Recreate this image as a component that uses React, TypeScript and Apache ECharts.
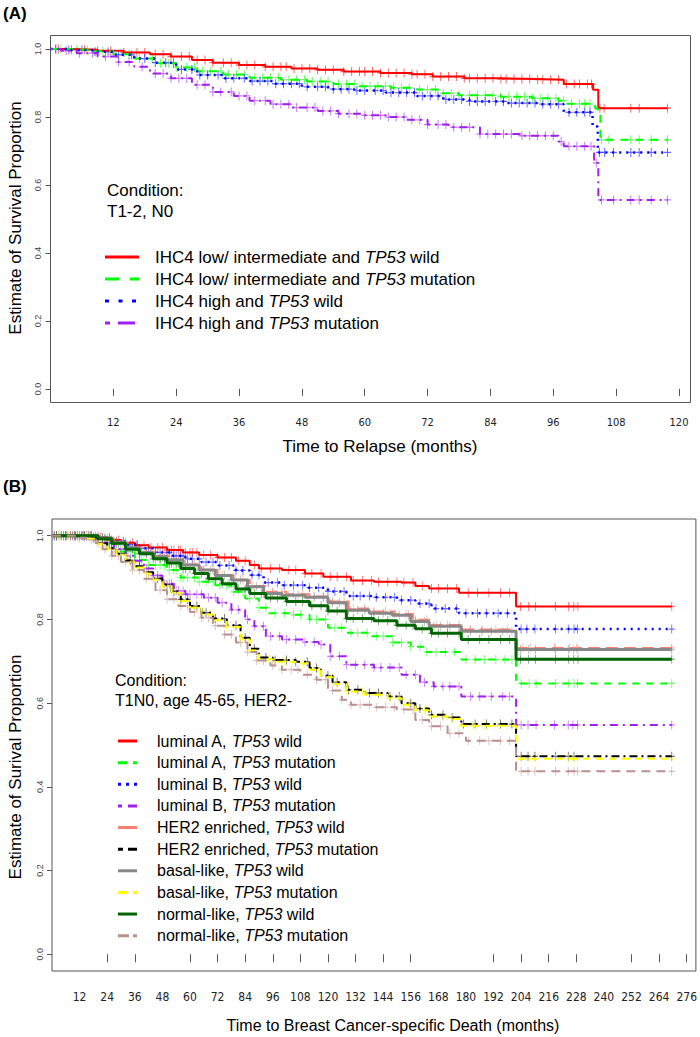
import { useEffect, useRef } from 'react';
import * as echarts from 'echarts';

type Pt = [number, number];

// ---------- ticks ----------
const Y_TICKS = [0, 0.2, 0.4, 0.6, 0.8, 1.0];
const A_X_TICKS = [12, 24, 36, 48, 60, 72, 84, 96, 108, 120];
const B_X_TICK_LABELS = [12, 24, 36, 48, 60, 72, 84, 96, 108, 120, 132, 144, 156, 168, 180, 192, 204, 216, 228, 240, 252, 264, 276];
const B_X_TICK_MARKS = [24, 36, 60, 72, 84, 96, 108, 120, 132, 144, 156, 192, 204, 216, 228, 252, 264, 276];

// ---------- text ----------
const A_TITLE = '(A)';
const B_TITLE = '(B)';
const A_X_NAME = 'Time to Relapse (months)';
const B_X_NAME = 'Time to Breast Cancer-specific Death (months)';
const A_Y_NAME = 'Estimate of Survival Proportion';
const B_Y_NAME = 'Estimate of Surival Proportion';
const A_CONDITION = ['Condition:', 'T1-2, N0'];
const B_CONDITION = ['Condition:', 'T1N0, age 45-65, HER2-'];
const A_LEGEND = [
  ['IHC4 low/ intermediate and ', 'TP53', ' wild'],
  ['IHC4 low/ intermediate and ', 'TP53', ' mutation'],
  ['IHC4 high and ', 'TP53', ' wild'],
  ['IHC4 high and ', 'TP53', ' mutation'],
];
const B_LEGEND = [
  ['luminal A, ', 'TP53', ' wild'],
  ['luminal A, ', 'TP53', ' mutation'],
  ['luminal B, ', 'TP53', ' wild'],
  ['luminal B, ', 'TP53', ' mutation'],
  ['HER2 enriched, ', 'TP53', ' wild'],
  ['HER2 enriched, ', 'TP53', ' mutation'],
  ['basal-like, ', 'TP53', ' wild'],
  ['basal-like, ', 'TP53', ' mutation'],
  ['normal-like, ', 'TP53', ' wild'],
  ['normal-like, ', 'TP53', ' mutation'],
];

// ---------- panel A: KM steps [month, survival] ----------
const A_RED: Pt[] = [[0, 1], [4, 0.998], [9, 0.995], [14, 0.99], [19, 0.985], [23, 0.978], [27, 0.968], [31, 0.96], [36, 0.953], [41, 0.948], [46, 0.943], [51, 0.939], [56, 0.934], [63, 0.93], [69, 0.926], [73, 0.919], [79, 0.914], [86, 0.912], [93, 0.91], [98, 0.897], [103.6, 0.88], [104.6, 0.826], [117.8, 0.826]];
const A_GREEN: Pt[] = [[0, 1], [4, 0.998], [8, 0.994], [12, 0.985], [16, 0.972], [20, 0.958], [24, 0.946], [28, 0.935], [33, 0.925], [38, 0.916], [44, 0.91], [49, 0.905], [54, 0.897], [59, 0.891], [65, 0.886], [70, 0.881], [74, 0.87], [78, 0.864], [86, 0.86], [92, 0.855], [97, 0.848], [98.5, 0.839], [104, 0.825], [104.5, 0.808], [105, 0.733], [117.8, 0.733]];
const A_BLUE: Pt[] = [[0, 1], [3, 0.997], [8, 0.992], [12, 0.983], [16, 0.972], [20, 0.96], [24, 0.94], [28, 0.924], [33, 0.914], [38, 0.906], [43, 0.898], [48, 0.889], [53, 0.882], [58, 0.878], [64, 0.872], [70, 0.862], [75, 0.852], [80, 0.846], [87, 0.841], [93, 0.838], [98, 0.814], [103.5, 0.772], [104.5, 0.696], [117.8, 0.696]];
const A_PURPLE: Pt[] = [[0, 1], [2, 0.995], [5, 0.988], [9, 0.978], [13, 0.962], [16, 0.948], [19, 0.928], [23, 0.914], [27, 0.895], [31, 0.874], [35, 0.862], [38, 0.848], [42, 0.838], [46, 0.828], [51, 0.818], [55, 0.81], [60, 0.805], [64, 0.8], [68, 0.792], [72, 0.778], [76, 0.77], [82, 0.75], [90, 0.745], [97, 0.728], [98, 0.714], [103.8, 0.665], [104.6, 0.556], [117.8, 0.556]];

// panel A censoring times (months)
const A_CENS_RED = [1.5, 4, 6.5, 9, 11.5, 14, 16.5, 18, 20, 21.5, 23, 25, 26.5, 28, 29.5, 31, 33, 34.5, 36, 37.5, 39, 41, 42.5, 44, 45, 46.5, 48, 49.5, 51, 52.5, 54, 56, 57.5, 59, 60, 61.5, 63, 64.5, 66, 67.5, 69, 70, 71.5, 73, 74.5, 76, 77.5, 79, 80, 81.5, 83, 84.5, 86, 87, 88.5, 90, 91.5, 93, 94, 95.5, 97, 98.5, 100, 101, 102.5, 103.3, 104.9, 105.7, 110.8, 112.4, 117.8];
const A_CENS_GREEN = [2, 5, 7, 10, 12.5, 15, 17, 19.5, 21, 22.5, 24, 26, 27.5, 29, 30.5, 32.5, 34, 35.5, 37, 39, 40.5, 42, 43.5, 45.5, 47, 48.5, 50, 51.5, 53, 55, 56.5, 58, 59.5, 61, 62.5, 64, 65.5, 67, 68.5, 70.5, 72, 73.5, 75, 76.5, 78, 80, 81.5, 83, 84.5, 86, 87.5, 89, 90.5, 92, 93.5, 95, 96.5, 98, 99.5, 101, 102, 103, 105.2, 106.6, 110.8, 112.4, 114.7, 117.8];
const A_CENS_BLUE = [1, 3.5, 6, 8.5, 11, 13, 15.5, 18, 20, 22, 23.5, 25, 27, 28.5, 30, 32, 33.5, 35, 37, 38.5, 40, 41.5, 43, 44.5, 46, 47.5, 49, 51, 52.5, 54, 55.5, 57, 58.5, 60, 62, 63.5, 65, 66.5, 68, 69.5, 71, 72.5, 74, 75.5, 77, 78.5, 80, 81.5, 83, 85, 86.5, 88, 89.5, 91, 92.5, 94, 95.5, 97, 99, 100.5, 102, 103, 104.8, 105.8, 107.5, 110.8, 112.4, 114.7, 117.8];
const A_CENS_PURPLE = [1, 3, 5.5, 8, 10.5, 13, 15, 17.5, 20, 21.5, 23, 24.5, 26, 28, 29.5, 31, 32.5, 34.5, 36, 37.5, 39, 41, 42.5, 44, 45.5, 47, 49, 50.5, 52, 53.5, 55, 57, 58.5, 60, 61.5, 63, 64.5, 66, 67.5, 69, 70.5, 72, 74, 75.5, 77, 78.5, 80, 82, 83.5, 85, 86.5, 88, 90, 91.5, 93, 94.5, 96, 97.5, 99, 100.5, 102, 103.2, 104.2, 105.2, 107.5, 110.8, 112.4, 114.7, 117.8];

// ---------- panel B: KM steps ----------
const B_RED: Pt[] = [[0, 1], [14, 1], [18, 0.997], [24, 0.99], [30, 0.983], [36, 0.977], [42, 0.972], [50, 0.966], [57, 0.96], [64, 0.954], [72, 0.948], [80, 0.94], [86, 0.93], [90, 0.922], [100, 0.918], [110, 0.91], [118, 0.902], [130, 0.893], [140, 0.89], [152, 0.888], [158, 0.88], [164, 0.874], [177, 0.864], [201.8, 0.831], [269.5, 0.831]];
const B_GREEN: Pt[] = [[0, 1], [14, 1], [19, 0.994], [25, 0.98], [30, 0.962], [36, 0.942], [42, 0.93], [50, 0.918], [56, 0.9], [64, 0.89], [71, 0.882], [78, 0.866], [84, 0.85], [90, 0.828], [94, 0.815], [104, 0.811], [112, 0.8], [120, 0.78], [128, 0.768], [138, 0.76], [148, 0.745], [156, 0.735], [163, 0.722], [178, 0.704], [201.8, 0.647], [269.5, 0.647]];
const B_BLUE: Pt[] = [[0, 1], [14, 1], [20, 0.995], [26, 0.987], [32, 0.979], [38, 0.97], [45, 0.96], [52, 0.952], [58, 0.945], [65, 0.937], [72, 0.929], [80, 0.917], [86, 0.906], [92, 0.888], [100, 0.882], [110, 0.876], [120, 0.867], [128, 0.856], [140, 0.853], [150, 0.846], [158, 0.838], [165, 0.826], [177, 0.815], [201.8, 0.777], [269.5, 0.777]];
const B_PURPLE: Pt[] = [[0, 1], [14, 1], [18, 0.995], [22, 0.984], [27, 0.968], [32, 0.952], [36, 0.94], [40, 0.922], [44, 0.905], [48, 0.885], [53, 0.868], [58, 0.86], [66, 0.852], [72, 0.84], [78, 0.823], [84, 0.8], [88, 0.784], [93, 0.76], [100, 0.752], [110, 0.746], [116, 0.74], [121, 0.712], [128, 0.692], [140, 0.685], [152, 0.668], [160, 0.65], [166, 0.64], [178, 0.616], [201.8, 0.548], [269.5, 0.548]];
const B_SALMON: Pt[] = [[0, 1], [15, 1], [21, 0.994], [27, 0.984], [33, 0.972], [39, 0.962], [45, 0.952], [51, 0.943], [58, 0.931], [65, 0.919], [72, 0.906], [79, 0.895], [86, 0.88], [93, 0.866], [102, 0.86], [112, 0.855], [121, 0.843], [129, 0.826], [139, 0.819], [149, 0.813], [157, 0.799], [165, 0.787], [178, 0.776], [201.8, 0.732], [269.5, 0.732]];
const B_BLACK: Pt[] = [[0, 1], [12, 1], [16, 0.994], [20, 0.982], [24, 0.97], [28, 0.957], [32, 0.941], [36, 0.927], [40, 0.913], [44, 0.898], [48, 0.883], [52, 0.867], [56, 0.848], [60, 0.832], [65, 0.816], [70, 0.802], [76, 0.786], [82, 0.756], [86, 0.73], [90, 0.709], [96, 0.703], [106, 0.699], [112, 0.684], [117, 0.666], [122, 0.65], [128, 0.632], [136, 0.624], [146, 0.616], [152, 0.6], [158, 0.587], [164, 0.572], [172, 0.566], [178, 0.55], [201.8, 0.473], [269.5, 0.473]];
const B_GRAY: Pt[] = [[0, 1], [14, 1], [20, 0.995], [26, 0.985], [32, 0.972], [38, 0.96], [44, 0.95], [50, 0.942], [57, 0.93], [64, 0.918], [71, 0.905], [78, 0.894], [85, 0.878], [92, 0.862], [100, 0.858], [110, 0.853], [120, 0.84], [128, 0.822], [138, 0.815], [148, 0.81], [156, 0.795], [164, 0.784], [178, 0.772], [201.8, 0.728], [269.5, 0.728]];
const B_YELLOW: Pt[] = [[0, 1], [12, 1], [16, 0.993], [20, 0.98], [24, 0.968], [28, 0.955], [32, 0.938], [36, 0.924], [40, 0.91], [44, 0.895], [48, 0.88], [52, 0.864], [56, 0.844], [60, 0.828], [65, 0.812], [70, 0.798], [76, 0.782], [82, 0.752], [86, 0.726], [90, 0.705], [96, 0.699], [106, 0.695], [112, 0.68], [117, 0.662], [122, 0.646], [128, 0.628], [136, 0.62], [146, 0.612], [152, 0.596], [158, 0.583], [164, 0.568], [172, 0.562], [178, 0.546], [201.8, 0.467], [269.5, 0.467]];
const B_DKGREEN: Pt[] = [[0, 1], [14, 1], [20, 0.993], [26, 0.982], [32, 0.968], [38, 0.957], [44, 0.945], [50, 0.935], [56, 0.922], [62, 0.91], [68, 0.897], [74, 0.885], [80, 0.873], [86, 0.862], [93, 0.851], [102, 0.843], [112, 0.833], [120, 0.82], [128, 0.802], [140, 0.797], [150, 0.786], [158, 0.778], [165, 0.767], [178, 0.752], [201.8, 0.705], [269.5, 0.705]];
const B_PINK: Pt[] = [[0, 1], [10, 0.995], [15, 0.99], [19, 0.982], [22, 0.968], [26, 0.952], [30, 0.937], [35, 0.918], [40, 0.897], [45, 0.87], [50, 0.848], [55, 0.832], [60, 0.818], [65, 0.804], [70, 0.785], [75, 0.764], [80, 0.745], [85, 0.722], [89, 0.702], [95, 0.69], [100, 0.68], [108, 0.668], [115, 0.656], [120, 0.63], [126, 0.608], [130, 0.596], [140, 0.59], [150, 0.585], [158, 0.56], [164, 0.545], [172, 0.528], [180, 0.51], [201.8, 0.437], [269.5, 0.437]];

// panel B censoring times (months)
const B_CENS_RED = [2, 5, 9, 12, 15, 18, 21, 24, 26, 29, 32, 35, 37, 40, 43, 46, 48, 50, 52, 53, 55, 56, 58, 60, 61, 63, 66, 69, 72, 75, 78, 81, 84, 88, 91, 95, 99, 103, 106, 110, 113, 117, 121, 124, 128, 131, 135, 139, 142, 146, 150, 153, 157, 161, 165, 168, 172, 176, 181, 185, 190, 195, 199, 203.7, 207.3, 210.2, 218.9, 224.7, 226.9, 228.7, 269.5];
const B_CENS_GREEN = [3, 7, 11, 14, 17, 20, 23, 25, 28, 31, 34, 36, 39, 42, 45, 47, 49, 51, 53, 54, 56, 57, 59, 62, 64, 67, 70, 73, 76, 79, 83, 86, 90, 93, 97, 101, 105, 108, 112, 115, 119, 123, 126, 130, 133, 137, 141, 144, 148, 152, 156, 160, 163, 167, 171, 175, 180, 184, 188, 193, 197, 200, 204, 207.5, 210.5, 219, 224.5, 227, 228.5, 269.5];
const B_CENS_BLUE = [1, 4, 8, 11, 14, 17, 20, 22, 25, 28, 31, 34, 37, 39, 42, 45, 47, 50, 51, 53, 54, 56, 57, 59, 61, 64, 67, 70, 73, 77, 80, 83, 87, 90, 94, 98, 101, 105, 109, 112, 116, 120, 123, 127, 131, 134, 138, 141, 145, 149, 152, 156, 160, 164, 167, 171, 176, 180, 185, 189, 194, 198, 204, 206.5, 210, 219, 224.5, 227, 228.5, 269.5];
const B_CENS_PURPLE = [2, 6, 10, 13, 16, 19, 22, 25, 27, 30, 33, 36, 38, 41, 44, 46, 49, 51, 52, 54, 55, 57, 58, 60, 63, 65, 68, 71, 74, 78, 81, 85, 88, 92, 95, 99, 102, 106, 110, 114, 117, 121, 125, 128, 132, 136, 140, 143, 147, 151, 154, 158, 162, 166, 170, 173, 177, 182, 186, 191, 196, 199, 204, 207, 210.5, 218.5, 224.5, 226.5, 228.5, 269.5];
const B_CENS_SALMON = [3, 7, 12, 16, 20, 24, 28, 33, 37, 41, 45, 49, 52, 55, 58, 62, 66, 70, 74, 79, 83, 87, 92, 96, 100, 105, 109, 114, 118, 122, 127, 131, 136, 140, 145, 149, 154, 158, 163, 167, 172, 177, 182, 187, 193, 198, 204.5, 208, 218.5, 225, 228, 269.5];
const B_CENS_BLACK = [2, 6, 10, 14, 18, 22, 26, 30, 34, 38, 42, 46, 50, 53, 56, 59, 63, 67, 71, 75, 80, 84, 88, 93, 97, 102, 106, 111, 115, 120, 124, 129, 133, 138, 142, 147, 151, 156, 160, 165, 170, 174, 179, 184, 189, 195, 200, 204, 207, 210, 219, 224.5, 227, 269.5];
const B_CENS_GRAY = [1, 5, 9, 13, 16, 19, 22, 25, 28, 31, 34, 37, 40, 43, 46, 48, 50, 52, 53, 55, 56, 58, 59, 61, 64, 66, 69, 72, 75, 79, 82, 85, 89, 92, 96, 100, 103, 107, 111, 114, 118, 122, 125, 129, 133, 136, 140, 144, 147, 151, 155, 158, 162, 166, 169, 173, 178, 182, 187, 191, 196, 200, 203.7, 207.3, 210.2, 218.9, 224.7, 226.9, 228.7, 269.5];
const B_CENS_YELLOW = [3, 7, 11, 15, 18, 21, 24, 27, 30, 33, 36, 39, 42, 45, 48, 50, 52, 54, 56, 58, 60, 63, 66, 69, 72, 76, 79, 83, 86, 90, 94, 97, 101, 105, 109, 113, 116, 120, 124, 128, 132, 135, 139, 143, 147, 151, 155, 158, 162, 166, 170, 174, 178, 183, 188, 193, 198, 204, 207, 210, 219, 224.5, 227, 228.5, 269.5];
const B_CENS_DKGREEN = [2, 6, 10, 13, 17, 20, 23, 26, 29, 32, 35, 38, 41, 44, 47, 49, 51, 52, 54, 55, 57, 58, 60, 62, 65, 68, 71, 74, 77, 81, 84, 88, 91, 95, 98, 102, 106, 109, 113, 117, 120, 124, 128, 131, 135, 139, 142, 146, 150, 154, 157, 161, 165, 168, 172, 177, 181, 186, 190, 195, 199, 203.7, 207.3, 210.2, 218.9, 224.7, 226.9, 228.7, 269.5];
const B_CENS_PINK = [0.5, 2, 4, 6, 8, 10, 12, 14, 17, 20, 23, 26, 29, 32, 35, 38, 41, 44, 47, 50, 53, 56, 59, 62, 65, 68, 71, 75, 78, 82, 85, 89, 92, 96, 100, 104, 107, 111, 115, 119, 122, 126, 130, 134, 138, 141, 145, 149, 153, 157, 161, 165, 169, 173, 177, 181, 186, 190, 195, 199, 204, 207, 210, 219, 224.5, 227, 228.5, 269.5];

// ---------- styles ----------
const FONT = "'Liberation Sans', Arial, Helvetica, sans-serif";
const NARROW = "'Liberation Sans Narrow', 'Arial Narrow', 'DejaVu Sans Condensed', 'Liberation Sans', sans-serif";
const PLUS = 'path://M4.3,0H5.7V4.3H10V5.7H5.7V10H4.3V5.7H0V4.3H4.3Z';

type Sty = { color: string; width: number; dash: number[] | 'solid'; legendDash: number[] | null };

const A_STYLES: Sty[] = [
  { color: '#FF0000', width: 2, dash: 'solid', legendDash: null },
  { color: '#00FF00', width: 2, dash: [8, 7], legendDash: [14, 11] },
  { color: '#0000FF', width: 2.5, dash: [2, 5], legendDash: [4, 9.5] },
  { color: '#A020F0', width: 2, dash: [2, 5, 8, 5], legendDash: [5, 8, 17, 8] },
];
const B_STYLES: Sty[] = [
  { color: '#FF0000', width: 2, dash: 'solid', legendDash: null },
  { color: '#00FF00', width: 2, dash: [7, 7], legendDash: [9, 6] },
  { color: '#0000FF', width: 2.5, dash: [2, 5], legendDash: [3, 5] },
  { color: '#A020F0', width: 2, dash: [2, 5, 8, 5], legendDash: [4, 6, 10, 6] },
  { color: '#FA8072', width: 2, dash: [12, 6], legendDash: null },
  { color: '#000000', width: 2, dash: [2, 4, 8, 4], legendDash: [5, 5, 9, 5] },
  { color: '#888888', width: 3, dash: 'solid', legendDash: null },
  { color: '#FFFF00', width: 2, dash: [7, 6], legendDash: [9, 6] },
  { color: '#006400', width: 3, dash: 'solid', legendDash: null },
  { color: '#BC8F8F', width: 2, dash: [9, 6], legendDash: [11, 4, 4, 4] },
];

const A_CURVES = [A_RED, A_GREEN, A_BLUE, A_PURPLE];
const A_CENS = [A_CENS_RED, A_CENS_GREEN, A_CENS_BLUE, A_CENS_PURPLE];
const B_CURVES = [B_RED, B_GREEN, B_BLUE, B_PURPLE, B_SALMON, B_BLACK, B_GRAY, B_YELLOW, B_DKGREEN, B_PINK];
const B_CENS = [B_CENS_RED, B_CENS_GREEN, B_CENS_BLUE, B_CENS_PURPLE, B_CENS_SALMON, B_CENS_BLACK, B_CENS_GRAY, B_CENS_YELLOW, B_CENS_DKGREEN, B_CENS_PINK];

function stepVal(curve: Pt[], t: number): number {
  let v = curve[0][1];
  for (const [x, y] of curve) if (x <= t) v = y;
  return v;
}

function richLabel(parts: string[]): string {
  return `{n|${parts[0]}}{i|${parts[1]}}{n|${parts[2]}}`;
}

function buildSeries(curves: Pt[][], cens: number[][], styles: Sty[], idx: number, markSize: number[]) {
  const out: any[] = [];
  curves.forEach((c, i) => {
    const s = styles[i];
    out.push({
      type: 'scatter',
      xAxisIndex: idx,
      yAxisIndex: idx,
      data: cens[i].map((t) => [t, stepVal(c, t)]),
      symbol: PLUS,
      symbolSize: markSize,
      itemStyle: { color: s.color, opacity: 0.6 },
      silent: true,
      z: 2,
    });
  });
  curves.forEach((c, i) => {
    const s = styles[i];
    out.push({
      type: 'line',
      xAxisIndex: idx,
      yAxisIndex: idx,
      data: c,
      step: 'end',
      symbol: 'none',
      showSymbol: false,
      lineStyle: { color: s.color, width: s.width, type: s.dash },
      silent: true,
      z: 3,
    });
  });
  return out;
}

function legendGraphics(labels: string[][], styles: Sty[], x1: number, x2: number, tx: number, y0: number, dy: number, fs: number) {
  const g: any[] = [];
  labels.forEach((lab, i) => {
    const y = y0 + i * dy;
    const s = styles[i];
    g.push({
      type: 'line',
      shape: { x1, y1: y, x2, y2: y },
      style: { stroke: s.color, lineWidth: 3, lineDash: s.legendDash || undefined },
      silent: true,
    });
    g.push({
      type: 'text',
      x: tx,
      y,
      style: {
        text: richLabel(lab),
        align: 'left',
        verticalAlign: 'middle',
        textAlign: 'left',
        textVerticalAlign: 'middle',
        rich: {
          n: { fontSize: fs, fontFamily: FONT, fill: '#000' },
          i: { fontSize: fs, fontFamily: FONT, fontStyle: 'italic', fill: '#000' },
        },
      },
      silent: true,
    });
  });
  return g;
}

function txt(text: string, x: number, y: number, fs: number, opts: any = {}) {
  return {
    type: 'text',
    x,
    y,
    rotation: opts.rotation || 0,
    style: {
      text,
      fontSize: fs,
      fontFamily: FONT,
      fontWeight: opts.bold ? 'bold' : 'normal',
      fill: '#000',
      align: opts.align || 'left',
      verticalAlign: 'middle',
      textAlign: opts.align || 'left',
      textVerticalAlign: 'middle',
    },
    silent: true,
  };
}

function xAxisCfg(gridIndex: number, max: number, ticks: number[], labels: number[], fs: number, margin: number, tickLen: number) {
  return {
    type: 'value',
    gridIndex,
    min: 0,
    max,
    axisLine: { show: false },
    splitLine: { show: false },
    axisTick: { show: true, length: tickLen, lineStyle: { color: '#555', width: 1 }, customValues: ticks },
    axisLabel: { show: true, customValues: labels, fontSize: fs, fontFamily: NARROW, color: '#222', margin },
  };
}

function yAxisCfg(gridIndex: number) {
  return {
    type: 'value',
    gridIndex,
    min: -0.04,
    max: 1.04,
    axisLine: { show: false },
    splitLine: { show: false },
    axisTick: { show: true, length: 5, lineStyle: { color: '#555', width: 1 }, customValues: Y_TICKS },
    axisLabel: {
      show: true,
      customValues: Y_TICKS,
      formatter: (v: number) => v.toFixed(1),
      rotate: 90,
      fontSize: 9,
      fontFamily: FONT,
      color: '#444',
      margin: 8,
    },
  };
}

export default function App() {
  const ref = useRef<HTMLDivElement>(null);
  useEffect(() => {
    if (!ref.current) return;
    const chart = echarts.init(ref.current, undefined, { renderer: 'svg' });
    const graphic: any[] = [
      txt(A_TITLE, 3, 13, 17, { bold: true }),
      txt(B_TITLE, 3, 486, 17, { bold: true }),
      txt(A_X_NAME, 380, 446, 17, { align: 'center' }),
      txt(B_X_NAME, 393, 1025, 16, { align: 'center' }),
      txt(A_Y_NAME, 15, 218, 17, { align: 'center', rotation: Math.PI / 2 }),
      txt(B_Y_NAME, 15, 767, 17, { align: 'center', rotation: Math.PI / 2 }),
      txt(A_CONDITION[0], 107, 190, 17),
      txt(A_CONDITION[1], 107, 211, 17),
      txt(B_CONDITION[0], 115, 680, 16),
      txt(B_CONDITION[1], 115, 700, 16),
      ...legendGraphics(A_LEGEND, A_STYLES, 105, 139, 155, 257, 22, 17),
      ...legendGraphics(B_LEGEND, B_STYLES, 118, 137, 157, 741, 21.63, 16),
    ];
    chart.setOption({
      animation: false,
      backgroundColor: '#fff',
      grid: [
        { left: 50.5, top: 35.5, width: 640, height: 367, show: true, borderColor: '#555', borderWidth: 1, backgroundColor: 'transparent' },
        { left: 52, top: 519, width: 645, height: 452, show: true, borderColor: '#555', borderWidth: 1, backgroundColor: 'transparent' },
      ],
      xAxis: [
        xAxisCfg(0, 122.2, A_X_TICKS, A_X_TICKS, 11, 14, 7),
        xAxisCfg(1, 280, B_X_TICK_MARKS, B_X_TICK_LABELS, 12, 20, 8),
      ],
      yAxis: [yAxisCfg(0), yAxisCfg(1)],
      series: [
        ...buildSeries(A_CURVES, A_CENS, A_STYLES, 0, [7, 9]),
        ...buildSeries(B_CURVES, B_CENS, B_STYLES, 1, [6, 9]),
      ],
      graphic,
    });
    return () => chart.dispose();
  }, []);
  return <div ref={ref} style={{ position: 'absolute', left: 0, top: 0, width: 700, height: 1037, background: '#fff' }} />;
}
